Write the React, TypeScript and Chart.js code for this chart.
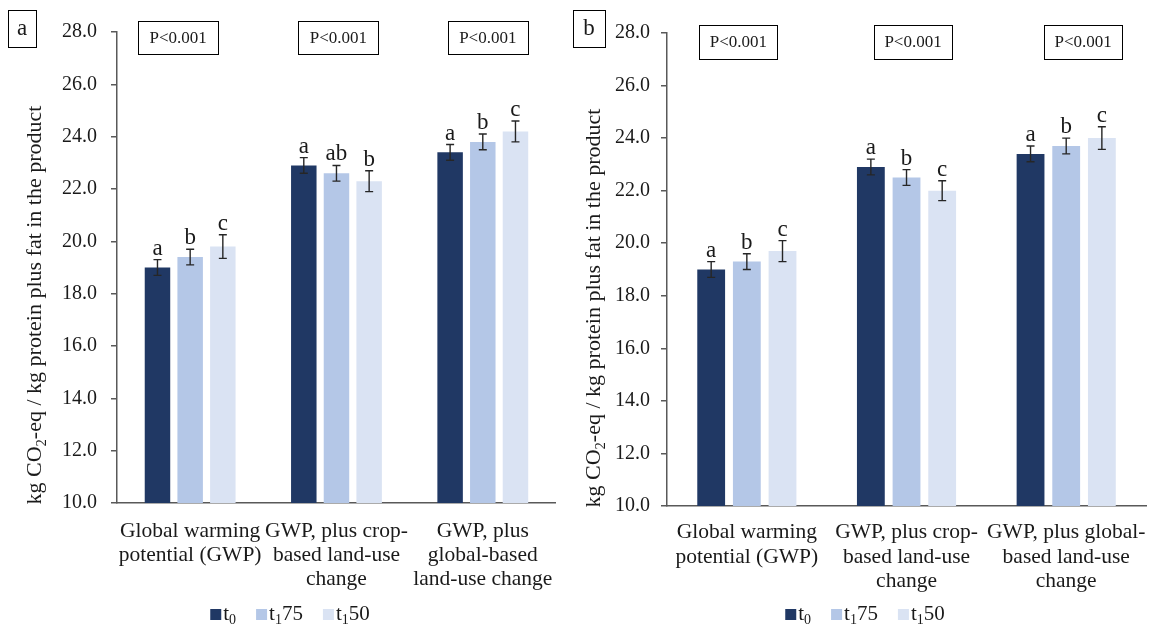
import React, { useEffect, useRef } from "react";
import { Chart, registerables } from "chart.js";

Chart.register(...registerables);

const FONT = '"Liberation Serif", "Times New Roman", Times, serif';
const TEXT = "#1a1a1a";
const AXIS = "#595959";

// ---- data ----
const CATEGORIES_A = [
  ["Global warming", "potential (GWP)"],
  ["GWP, plus crop-", "based land-use", "change"],
  ["GWP, plus", "global-based", "land-use change"],
];
const CATEGORIES_B = [
  ["Global warming", "potential (GWP)"],
  ["GWP, plus crop-", "based land-use", "change"],
  ["GWP, plus global-", "based land-use", "change"],
];

const SERIES_NAMES = ["t0", "t175", "t150"];
const SERIES_COLORS = ["#203864", "#B4C7E7", "#DAE3F3"];
// legend text parts: [text, isSubscript]
const LEGEND_PARTS: [string, boolean][][] = [
  [["t", false], ["0", true]],
  [["t", false], ["1", true], ["75", false]],
  [["t", false], ["1", true], ["50", false]],
];

const Y_MIN = 10;
const Y_MAX = 28;
const Y_STEP = 2;

const A_T0 = [19.0, 22.9, 23.4];
const A_T175 = [19.4, 22.6, 23.8];
const A_T150 = [19.8, 22.3, 24.2];
const A_ERR_T0 = [0.3, 0.3, 0.3];
const A_ERR_T175 = [0.3, 0.3, 0.3];
const A_ERR_T150 = [0.45, 0.4, 0.4];
const A_LET_T0 = ["a", "a", "a"];
const A_LET_T175 = ["b", "ab", "b"];
const A_LET_T150 = ["c", "b", "c"];

const B_T0 = [19.0, 22.9, 23.4];
const B_T175 = [19.3, 22.5, 23.7];
const B_T150 = [19.7, 22.0, 24.0];
const B_ERR_T0 = [0.3, 0.3, 0.3];
const B_ERR_T175 = [0.3, 0.3, 0.3];
const B_ERR_T150 = [0.4, 0.38, 0.43];
const B_LET_T0 = ["a", "a", "a"];
const B_LET_T175 = ["b", "b", "b"];
const B_LET_T150 = ["c", "c", "c"];

const P_LABELS = ["P<0.001", "P<0.001", "P<0.001"];

const Y_TITLE_PARTS: [string, boolean][] = [
  ["kg CO", false],
  ["2", true],
  ["-eq / kg protein plus fat in the product", false],
];

// ---- layout configs (styling only) ----
const PANEL_A = {
  name: "a",
  left: 0,
  width: 570,
  height: 625,
  categories: CATEGORIES_A,
  values: [A_T0, A_T175, A_T150],
  errors: [A_ERR_T0, A_ERR_T175, A_ERR_T150],
  letters: [A_LET_T0, A_LET_T175, A_LET_T150],
  yAxisWidth: 117,
  padTop: 32,
  padRight: 10,
  xAxisHeight: 122,
  tickPad: 14,
  xTickPad: 16,
  xLineHeight: 1.12,
  titleX: 41,
  titleY: 305,
  labelBox: [8, 10, 28, 37],
  pBoxOffsets: [-12, 2, 5],
  pBoxY: 21,
  pBoxW: 80,
  pBoxH: 33,
  legendDx: 5,
};

const PANEL_B = {
  name: "b",
  left: 570,
  width: 590,
  height: 625,
  categories: CATEGORIES_B,
  values: [B_T0, B_T175, B_T150],
  errors: [B_ERR_T0, B_ERR_T175, B_ERR_T150],
  letters: [B_LET_T0, B_LET_T175, B_LET_T150],
  yAxisWidth: 97,
  padTop: 33,
  padRight: 7,
  xAxisHeight: 119,
  tickPad: 11,
  xTickPad: 13.5,
  xLineHeight: 1.16,
  titleX: 30,
  titleY: 308,
  labelBox: [3, 10, 32, 37],
  pBoxOffsets: [-8.5, 6.5, 17],
  pBoxY: 25,
  pBoxW: 78,
  pBoxH: 34,
  legendDx: 0,
};

function drawParts(
  ctx: CanvasRenderingContext2D,
  parts: [string, boolean][],
  x: number,
  y: number,
  size: number,
  subSize: number,
  subDrop: number
) {
  let cx = x;
  for (const [t, sub] of parts) {
    ctx.font = `${sub ? subSize : size}px ${FONT}`;
    ctx.fillText(t, cx, sub ? y + subDrop : y);
    cx += ctx.measureText(t).width;
  }
  return cx - x;
}

function measureParts(ctx: CanvasRenderingContext2D, parts: [string, boolean][], size: number, subSize: number) {
  let w = 0;
  for (const [t, sub] of parts) {
    ctx.font = `${sub ? subSize : size}px ${FONT}`;
    w += ctx.measureText(t).width;
  }
  return w;
}

function makeDecorPlugin(cfg: any) {
  return {
    id: "decor" + cfg.name,
    afterDatasetsDraw(chart: any) {
      const ctx = chart.ctx as CanvasRenderingContext2D;
      const ys = chart.scales.y;
      chart.data.datasets.forEach((ds: any, di: number) => {
        const meta = chart.getDatasetMeta(di);
        meta.data.forEach((el: any, i: number) => {
          const v = ds.data[i];
          const e = cfg.errors[di][i];
          const yt = ys.getPixelForValue(v + e);
          const yb = ys.getPixelForValue(v - e);
          ctx.save();
          ctx.strokeStyle = "#262626";
          ctx.lineWidth = 1.4;
          ctx.beginPath();
          ctx.moveTo(el.x, yt);
          ctx.lineTo(el.x, yb);
          ctx.moveTo(el.x - 4, yt);
          ctx.lineTo(el.x + 4, yt);
          ctx.moveTo(el.x - 4, yb);
          ctx.lineTo(el.x + 4, yb);
          ctx.stroke();
          ctx.fillStyle = TEXT;
          ctx.font = `23px ${FONT}`;
          ctx.textAlign = "center";
          ctx.textBaseline = "alphabetic";
          ctx.fillText(cfg.letters[di][i], el.x, yt - 5);
          ctx.restore();
        });
      });
    },
    afterDraw(chart: any) {
      const ctx = chart.ctx as CanvasRenderingContext2D;
      const xs = chart.scales.x;
      ctx.save();
      ctx.fillStyle = TEXT;
      ctx.strokeStyle = "#000";
      ctx.lineWidth = 1;

      // P-value boxes
      P_LABELS.forEach((p, i) => {
        const cx = xs.getPixelForValue(i) + cfg.pBoxOffsets[i];
        const x0 = Math.round(cx - cfg.pBoxW / 2) + 0.5;
        const y0 = cfg.pBoxY + 0.5;
        ctx.strokeRect(x0, y0, cfg.pBoxW, cfg.pBoxH);
        ctx.font = `17px ${FONT}`;
        ctx.textAlign = "center";
        ctx.textBaseline = "middle";
        ctx.fillText(p, cx, cfg.pBoxY + cfg.pBoxH / 2 + 1);
      });

      // panel label box
      const [lx, ly, lw, lh] = cfg.labelBox;
      ctx.strokeRect(lx + 0.5, ly + 0.5, lw, lh);
      ctx.font = `23px ${FONT}`;
      ctx.textAlign = "center";
      ctx.textBaseline = "middle";
      ctx.fillText(cfg.name, lx + lw / 2, ly + lh / 2);

      // y-axis title (rotated, with subscript)
      ctx.save();
      ctx.translate(cfg.titleX, cfg.titleY);
      ctx.rotate(-Math.PI / 2);
      ctx.textAlign = "left";
      ctx.textBaseline = "alphabetic";
      const tw = measureParts(ctx, Y_TITLE_PARTS, 22, 14.5);
      drawParts(ctx, Y_TITLE_PARTS, -tw / 2, 0, 22, 14.5, 5);
      ctx.restore();

      // legend
      const size = 21;
      const sub = 14;
      const sq = 11;
      const gapSq = 2;
      const gapItems = 20;
      ctx.textAlign = "left";
      ctx.textBaseline = "alphabetic";
      const widths = LEGEND_PARTS.map((pts) => measureParts(ctx, pts, size, sub));
      const total =
        widths.reduce((a, w) => a + sq + gapSq + w, 0) + gapItems * (LEGEND_PARTS.length - 1);
      let x = chart.width / 2 - total / 2 + cfg.legendDx;
      const base = 620;
      LEGEND_PARTS.forEach((pts, i) => {
        ctx.fillStyle = SERIES_COLORS[i];
        ctx.fillRect(x, base - 11, sq, sq);
        x += sq + gapSq;
        ctx.fillStyle = TEXT;
        drawParts(ctx, pts, x, base, size, sub, 4);
        x += widths[i] + gapItems;
      });
      ctx.restore();
    },
  };
}

function Panel({ cfg }: { cfg: any }) {
  const ref = useRef<HTMLCanvasElement | null>(null);
  useEffect(() => {
    if (!ref.current) return;
    const chart = new Chart(ref.current, {
      type: "bar",
      data: {
        labels: cfg.categories,
        datasets: SERIES_NAMES.map((name, i) => ({
          label: name,
          data: cfg.values[i],
          backgroundColor: SERIES_COLORS[i],
          borderWidth: 0,
          categoryPercentage: 0.67,
          barPercentage: 0.78,
        })),
      },
      options: {
        responsive: false,
        animation: false,
        devicePixelRatio: 1,
        layout: { padding: { top: cfg.padTop, right: cfg.padRight, left: 0, bottom: 0 } },
        plugins: {
          legend: { display: false },
          tooltip: { enabled: false },
          title: { display: false },
        },
        scales: {
          x: {
            type: "category",
            offset: true,
            grid: { display: false, drawTicks: false },
            border: { display: true, color: AXIS, width: 1.5 },
            ticks: {
              autoSkip: false,
              maxRotation: 0,
              minRotation: 0,
              padding: cfg.xTickPad,
              color: TEXT,
              font: { family: FONT, size: 21.5, lineHeight: cfg.xLineHeight },
            },
            afterFit: (s: any) => {
              s.height = cfg.xAxisHeight;
            },
          },
          y: {
            min: Y_MIN,
            max: Y_MAX,
            ticks: {
              stepSize: Y_STEP,
              padding: cfg.tickPad,
              color: TEXT,
              font: { family: FONT, size: 20 },
              callback: (v: any) => Number(v).toFixed(1),
            },
            grid: {
              drawOnChartArea: false,
              drawTicks: true,
              tickLength: 6,
              color: AXIS,
              lineWidth: 1.5,
            },
            border: { display: true, color: AXIS, width: 1.5 },
            afterFit: (s: any) => {
              s.width = cfg.yAxisWidth;
            },
          },
        },
      } as any,
      plugins: [makeDecorPlugin(cfg)],
    });
    return () => chart.destroy();
  }, [cfg]);
  return (
    <canvas
      ref={ref}
      width={cfg.width}
      height={cfg.height}
      style={{ position: "absolute", left: cfg.left, top: 0, width: cfg.width, height: cfg.height, display: "block" }}
    />
  );
}

export default function App() {
  return (
    <div
      style={{
        position: "fixed",
        left: 0,
        top: 0,
        width: 1160,
        height: 625,
        background: "#fff",
        overflow: "hidden",
      }}
    >
      <Panel cfg={PANEL_A} />
      <Panel cfg={PANEL_B} />
    </div>
  );
}
